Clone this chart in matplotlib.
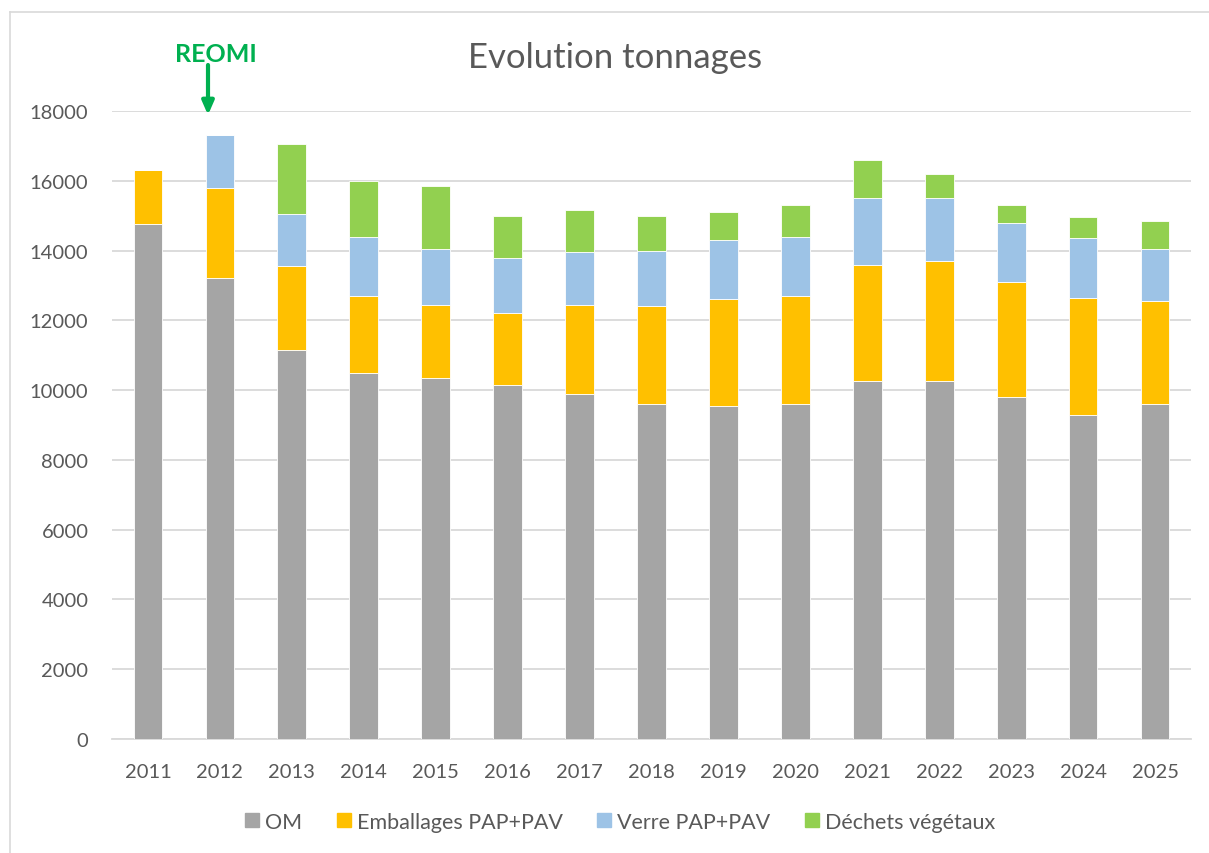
import matplotlib
matplotlib.use("Agg")
import matplotlib.pyplot as plt
from matplotlib.lines import Line2D
import numpy as np

years = ["2011", "2012", "2013", "2014", "2015", "2016", "2017", "2018",
         "2019", "2020", "2021", "2022", "2023", "2024", "2025"]
om = [14750, 13200, 11150, 10500, 10350, 10150, 9900, 9600, 9550, 9600,
      10250, 10250, 9800, 9300, 9600]
emballages = [1550, 2600, 2400, 2200, 2100, 2050, 2550, 2800, 3050, 3100,
              3350, 3450, 3300, 3350, 2950]
verre = [0, 1500, 1500, 1700, 1600, 1600, 1500, 1600, 1700, 1700,
         1900, 1800, 1700, 1700, 1500]
vegetaux = [0, 0, 2000, 1600, 1800, 1200, 1200, 1000, 800, 900,
            1100, 700, 500, 600, 800]
series_names = ["OM", "Emballages PAP+PAV", "Verre PAP+PAV", "Déchets végétaux"]
colors = ["#A5A5A5", "#FFC000", "#9DC3E6", "#92D050"]

plt.rcParams['font.family'] = ['Lato', 'DejaVu Sans']

W, H = 1209, 854
fig = plt.figure(figsize=(W / 100, H / 100), dpi=100)
ax = fig.add_axes([112 / W, 1 - 740 / H, (1191 - 112) / W, (740 - 112) / H])

x = np.arange(len(years))
bottom = np.zeros(len(years))
handles = []
for vals, name, c in zip([om, emballages, verre, vegetaux], series_names, colors):
    v = np.array(vals, dtype=float)
    ax.bar(x, v, bottom=bottom, width=0.40, color=c, label=name, zorder=3,
           edgecolor='white', linewidth=0.6)
    bottom += v
    handles.append(Line2D([], [], marker='s', linestyle='none', markersize=10,
                          markerfacecolor=c, markeredgecolor=c, label=name))

ax.set_xlim(-0.5, len(years) - 0.5)
ax.set_ylim(0, 18000)
ax.set_yticks(np.arange(0, 18001, 2000))
ax.set_xticks(x)
ax.set_xticklabels(years)
ax.grid(axis='y', color='#D9D9D9', linewidth=1.3, zorder=0)
for s in ['top', 'right', 'left']:
    ax.spines[s].set_visible(False)
ax.spines['bottom'].set_color('#D9D9D9')
ax.spines['bottom'].set_linewidth(1.3)
ax.tick_params(axis='both', length=0, labelsize=14.5, colors='#595959')
ax.tick_params(axis='x', pad=17)
ax.tick_params(axis='y', pad=17)

fig.text(615 / W, 1 - 58 / H, "Evolution tonnages", ha='center', va='center',
         fontsize=25, color='#595959')

# REOMI annotation
fig.text(216 / W, 1 - 55 / H, "REOMI", ha='center', va='center',
         fontsize=18, fontweight='bold', color='#00B050')
ax.annotate("", xy=(208 / W, 1 - 116 / H), xycoords='figure fraction',
            xytext=(208 / W, 1 - 66 / H), textcoords='figure fraction',
            arrowprops=dict(arrowstyle='-|>,head_width=0.35,head_length=0.8',
                            color='#00B050', lw=3, shrinkA=0, shrinkB=0))

fig.legend(handles=handles, loc='center', bbox_to_anchor=(620 / W, 1 - 823 / H),
           ncol=4, frameon=False, fontsize=15.5, handlelength=0.65,
           handletextpad=0.28, columnspacing=1.6, labelcolor='#595959')

# chart border (left and top visible)
fig.add_artist(Line2D([10 / W, 10 / W], [0, 1 - 13 / H], transform=fig.transFigure,
                      color='#D9D9D9', lw=1.2))
fig.add_artist(Line2D([10 / W, 1], [1 - 13 / H, 1 - 13 / H], transform=fig.transFigure,
                      color='#D9D9D9', lw=1.2))

fig.savefig("out.png", dpi=100, facecolor='white')
